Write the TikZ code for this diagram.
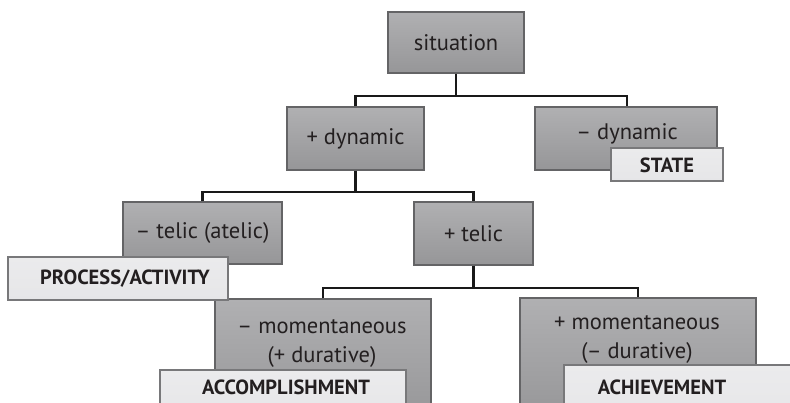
\documentclass[tikz,border=0pt]{standalone}
\usepackage{fontspec}
\setmainfont{PT Sans}
\definecolor{boxtop}{RGB}{176,176,178}
\definecolor{boxbot}{RGB}{150,150,152}
\definecolor{boxedge}{RGB}{100,100,102}
\definecolor{lblfill}{RGB}{230,230,232}
\definecolor{lbledge}{RGB}{120,120,122}
\definecolor{txt}{RGB}{35,31,32}
\begin{document}
\begin{tikzpicture}[x=1pt,y=-1pt,
  catbox/.style={draw=boxedge, line width=1.3pt, top color=boxtop, bottom color=boxbot,
     inner sep=0pt, text=txt, font=\fontsize{22.5}{27}\selectfont, align=center},
  cattext/.style={inner sep=0pt, text=txt, font=\fontsize{22.5}{29}\selectfont, align=center},
  lblbox/.style={draw=lbledge, line width=1.1pt, top color=lblfill!80!white, bottom color=lblfill, inner sep=0pt},
  lbltext/.style={inner sep=0pt, text=txt, font=\bfseries\fontsize{20.5}{24}\selectfont},
  conn/.style={line width=2.2pt, draw=black!90}]
\useasboundingbox (0,0) rectangle (790,402);
\clip (0,0) rectangle (790,402);
% main category boxes
\node[catbox, minimum width=136pt, minimum height=61pt] (sit) at (456,42.5) {situation};
\node[catbox, minimum width=137pt, minimum height=63pt] (pdyn) at (355.5,138.5) {+ dynamic};
\node[catbox, minimum width=182pt, minimum height=63pt] (mdyn) at (626,138.5) {};
\node[cattext] (mdynT) at (627,134) {– dynamic};
\node[catbox, minimum width=159pt, minimum height=62pt] (mtel) at (202.5,233) {– telic (atelic)};
\node[catbox, minimum width=119pt, minimum height=63pt] (ptel) at (473.5,233.5) {+ telic};
\node[catbox, minimum width=216pt, minimum height=122pt] (mmom) at (323,360) {};
\node[cattext] (mmomT) at (322,343) {– momentaneous\\(+ durative)};
\node[catbox, minimum width=236pt, minimum height=122pt] (pmom) at (638,359) {};
\node[cattext] (pmomT) at (637,339) {+ momentaneous\\(– durative)};
% connectors
\draw[conn] (sit.south) -- ++(0,22) coordinate (j1);
\draw[conn] (pdyn.north) |- (j1);
\draw[conn] (j1) -| (mdynT.north |- mdyn.north);
\draw[conn] (pdyn.south) -- ++(0,21) coordinate (j2);
\draw[conn] (mtel.north) |- (j2);
\draw[conn] (j2) -| (ptel.north);
\draw[conn] (ptel.south) -- ++(0,22.5) coordinate (j3);
\draw[conn] (mmom.north) |- (j3);
\draw[conn] (j3) -| (pmom.north);
% label boxes
\node[lblbox, minimum width=112pt, minimum height=33pt] (state) at (667,164.5) {};
\node[lbltext] (stateT) at (667,165) {STATE};
\node[lblbox, minimum width=220pt, minimum height=43pt] (proc) at (118,278.5) {};
\node[lbltext] (procT) at (125,279) {PROCESS/ACTIVITY};
\node[lblbox, minimum width=246pt, minimum height=50pt] (acc) at (283,395) {};
\node[lbltext] (accT) at (286,387) {ACCOMPLISHMENT};
\node[lblbox, minimum width=236pt, minimum height=60pt] (ach) at (682,395) {};
\node[lbltext] (achT) at (662,387) {ACHIEVEMENT};
\end{tikzpicture}
\end{document}
